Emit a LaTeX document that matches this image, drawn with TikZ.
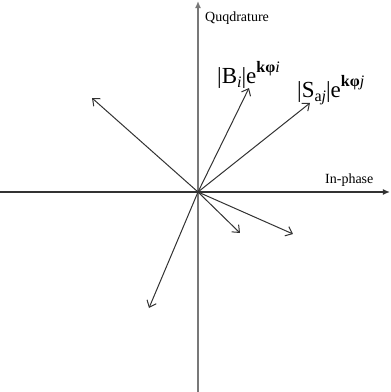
\documentclass[tikz,border=0pt]{standalone}
\usepackage{fontspec}
\setmainfont{Liberation Serif}
\usepackage{xcolor}
\definecolor{axisGray}{RGB}{120,120,120}
\definecolor{vecGray}{RGB}{50,50,50}
\usetikzlibrary{arrows.meta,positioning}

\newcommand{\supk}[1]{\raisebox{1.0ex}{\fontsize{16}{16}\selectfont #1}}
\newcommand{\subk}[1]{\raisebox{-0.45ex}{\fontsize{16}{16}\selectfont #1}}

\begin{document}
\begin{tikzpicture}[x=1pt,y=1pt,
    axis/.style={line width=1.5pt, draw=axisGray, -{Latex[length=7pt,width=6pt]}},
    phasor/.style={line width=1pt, draw=vecGray, -{Straight Barb[length=6pt,width=10pt]}},
    axlabel/.style={font=\fontsize{14}{16}\selectfont, inner sep=0pt, anchor=base west},
    veclabel/.style={font=\fontsize{23}{26}\selectfont, inner sep=0pt, anchor=base west}]
    \useasboundingbox (-198,-200) rectangle (193,192);

    % axes
    \coordinate (O) at (0,0);
    \coordinate (xL) at (-198,0);
    \coordinate (xR) at (192,0);
    \coordinate (yB) at (0,-200);
    \coordinate (yT) at (0,191);
    \draw[axis, draw=vecGray] (xL) -- (xR);
    \draw[axis] (yB) -- (yT);
    \node[axlabel] (quad) at (7,171) {Quqdrature};
    \node[axlabel] (inph) at (127,9) {In-phase};

    % phasors
    \coordinate (Bi) at (51,104);
    \coordinate (Saj) at (112,89);
    \coordinate (pUL) at (-106,94);
    \coordinate (pLR1) at (42,-41);
    \coordinate (pLR2) at (95,-42);
    \coordinate (pLL) at (-49,-116);
    \foreach \tip in {Bi,Saj,pUL,pLR1,pLR2,pLL}
        \draw[phasor] (O) -- (\tip);

    \node[veclabel] (lblB) at (19,109) {|B\subk{\textit{i}}|e\supk{\textbf{kφ}\textit{i}}};
    \node[veclabel] (lblS) at (99,95) {|S\subk{a\textit{j}}|e\supk{\textbf{kφ}\textit{j}}};
\end{tikzpicture}
\end{document}
